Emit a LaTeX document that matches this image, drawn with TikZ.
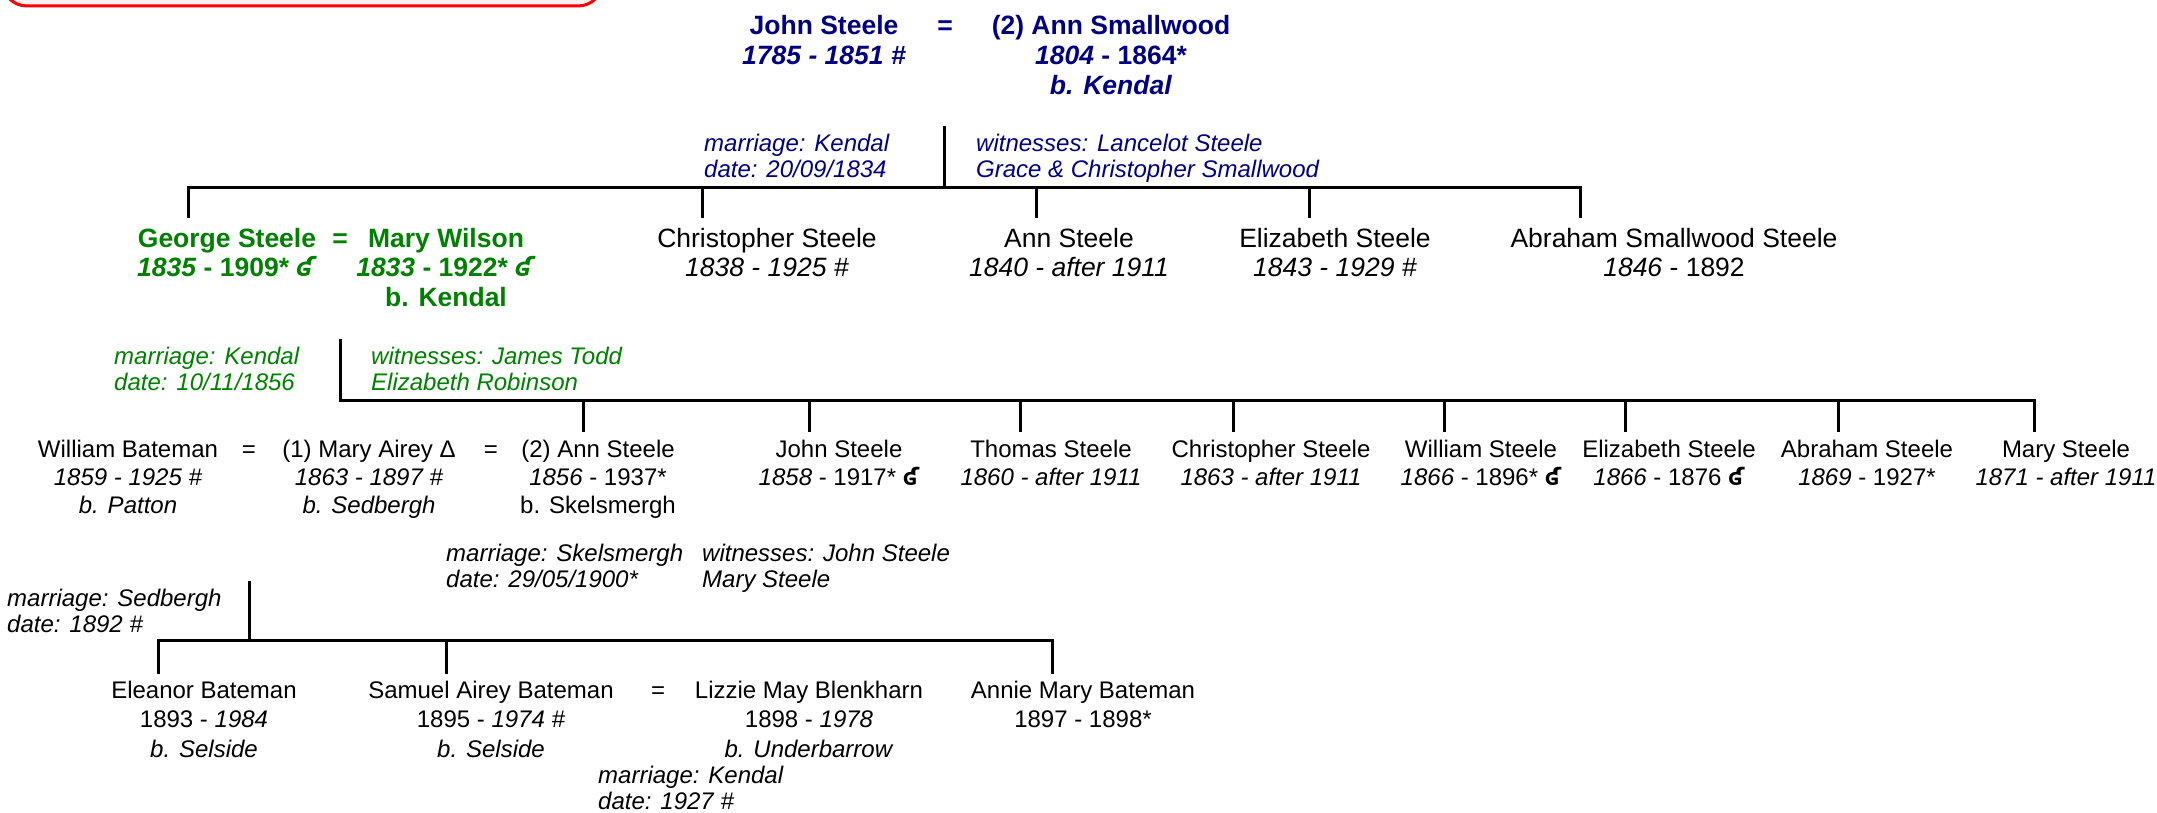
\documentclass[tikz,border=0pt]{standalone}
\usepackage{fontspec}
\setmainfont{Liberation Sans}
\newfontfamily\dvs{DejaVu Sans}
\definecolor{navyc}{RGB}{0,0,128}
\definecolor{greenc}{RGB}{0,128,0}
\newcommand\fst{\rule{0pt}{20pt}}
\newcommand\hk{{\dvs\bfseries ʛ}}
\tikzset{
  big/.style={font=\fontsize{26.5}{29.5}\selectfont, align=center, inner sep=0pt, anchor=north},
  smlA/.style={font=\fontsize{24}{28}\selectfont, align=center, inner sep=0pt, anchor=north},
  smlB/.style={font=\fontsize{24}{29.5}\selectfont, align=center, inner sep=0pt, anchor=north},
  note/.style={font=\fontsize{24}{26.5}\selectfont\itshape, align=left, inner sep=0pt, anchor=north west},
  ln/.style={line width=3pt, line cap=rect},
  navyb/.style={text=navyc, font=\fontsize{26.5}{30}\selectfont\bfseries},
  greenb/.style={text=greenc, font=\fontsize{26.5}{29.5}\selectfont\bfseries},
}
\begin{document}
\begin{tikzpicture}[x=1pt,y=-1pt]
\useasboundingbox (0,0) rectangle (2157,813);
% red box at top left
\draw[red, line width=3pt, fill=red!6, rounded corners=25pt] (2,-40) rectangle (603,6);

% ---------- generation 1 ----------
\node[big, navyb] (js1) at (824,14) {\fst John Steele\\\textit{1785 - 1851 \#}};
\node[big, navyb] (eq1) at (945,14) {\fst =};
\node[big, navyb] (as1) at (1111,14) {\fst (2) Ann Smallwood\\\textit{1804} - 1864*\\\textit{b. Kendal}};
\node[note, text=navyc] (m1) at (704,131) {\rule{0pt}{20pt}marriage: Kendal\\date: 20/09/1834};
\node[note, text=navyc] (w1) at (976,131) {\rule{0pt}{20pt}witnesses: Lancelot Steele\\Grace \& Christopher Smallwood};
\coordinate (t1) at (944,128);
\coordinate (j1) at (944,188);
\coordinate (b1L) at (188,188);
\coordinate (b1R) at (1580,188);
\draw[ln] (t1) -- (j1);
\draw[ln] (b1L) -- (b1R);
\foreach \n/\x in {a/188,b/702,c/1036,d/1309,e/1580}{
  \coordinate (u1\n) at (\x,188);
  \coordinate (d1\n) at (\x,217);
  \draw[ln] (u1\n) -- (d1\n);
}

% ---------- generation 2 ----------
\node[big, greenb] (gs) at (227,227) {\fst George Steele\\\textit{1835} - 1909* \textit{\hk}};
\node[big, greenb] (eq2) at (340,227) {\fst =};
\node[big, greenb] (mw) at (446,227) {\fst Mary Wilson\\\textit{1833} - 1922* \textit{\hk}\\b. Kendal};
\node[big] (cs) at (767,227) {\fst Christopher Steele\\\textit{1838 - 1925 \#}};
\node[big] (ans) at (1069,227) {\fst Ann Steele\\\textit{1840 - after 1911}};
\node[big] (es) at (1335,227) {\fst Elizabeth Steele\\\textit{1843 - 1929 \#}};
\node[big] (abs) at (1674,227) {\fst Abraham Smallwood Steele\\\textit{1846} - 1892};
\node[note, text=greenc] (m2) at (114,344) {\rule{0pt}{20pt}marriage: Kendal\\date: 10/11/1856};
\node[note, text=greenc] (w2) at (371,344) {\rule{0pt}{20pt}witnesses: James Todd\\Elizabeth Robinson};
\coordinate (t2) at (340,340);
\coordinate (j2) at (340,400);
\coordinate (b2R) at (2034,400);
\draw[ln] (t2) -- (j2) -- (b2R);
\foreach \n/\x in {a/583,b/809,c/1020,d/1233,e/1444,f/1625,g/1838,h/2034}{
  \coordinate (u2\n) at (\x,400);
  \coordinate (d2\n) at (\x,430);
  \draw[ln] (u2\n) -- (d2\n);
}

% ---------- generation 3 ----------
\node[smlA] (wb) at (128,437) {\fst William Bateman\\\textit{1859 - 1925 \#}\\\textit{b. Patton}};
\node[smlA] (eq3) at (249,437) {\fst =};
\node[smlA] (ma) at (369,437) {\fst (1) Mary Airey Δ\\\textit{1863 - 1897 \#}\\\textit{b. Sedbergh}};
\node[smlA] (eq4) at (491,437) {\fst =};
\node[smlA] (ast) at (598,437) {\fst (2) Ann Steele\\\textit{1856} - 1937*\\b. Skelsmergh};
\node[smlA] (jst) at (839,437) {\fst John Steele\\\textit{1858} - 1917* \hk};
\node[smlA] (ts) at (1051,437) {\fst Thomas Steele\\\textit{1860 - after 1911}};
\node[smlA] (cs2) at (1271,437) {\fst Christopher Steele\\\textit{1863 - after 1911}};
\node[smlA] (ws) at (1481,437) {\fst William Steele\\\textit{1866} - 1896* \hk};
\node[smlA] (es2) at (1669,437) {\fst Elizabeth Steele\\\textit{1866} - 1876 \hk};
\node[smlA] (abst) at (1867,437) {\fst Abraham Steele\\\textit{1869} - 1927*};
\node[smlA] (mst) at (2066,437) {\fst Mary Steele\\\textit{1871 - after 1911}};
\node[note] (m3) at (446,541) {\rule{0pt}{20pt}marriage: Skelsmergh\\date: 29/05/1900*};
\node[note] (w3) at (702,541) {\rule{0pt}{20pt}witnesses: John Steele\\Mary Steele};
\node[note] (m4) at (7,586) {\rule{0pt}{20pt}marriage: Sedbergh\\date: 1892 \#};
\coordinate (t4) at (249,582);
\coordinate (j4) at (249,640);
\coordinate (b4L) at (158,640);
\coordinate (b4R) at (1052,640);
\draw[ln] (t4) -- (j4);
\draw[ln] (b4L) -- (b4R);
\foreach \n/\x in {a/158,b/446,c/1052}{
  \coordinate (u4\n) at (\x,640);
  \coordinate (d4\n) at (\x,672);
  \draw[ln] (u4\n) -- (d4\n);
}

% ---------- generation 4 ----------
\node[smlB] (eb) at (204,678) {\fst Eleanor Bateman\\1893 - \textit{1984}\\\textit{b. Selside}};
\node[smlB] (sab) at (491,678) {\fst Samuel Airey Bateman\\1895 - \textit{1974 \#}\\\textit{b. Selside}};
\node[smlB] (eq5) at (658,678) {\fst =};
\node[smlB] (lmb) at (809,678) {\fst Lizzie May Blenkharn\\1898 - \textit{1978}\\\textit{b. Underbarrow}};
\node[smlB] (amb) at (1083,678) {\fst Annie Mary Bateman\\1897 - 1898*};
\node[note] (m5) at (598,763) {\rule{0pt}{20pt}marriage: Kendal\\date: 1927 \#};
\end{tikzpicture}
\end{document}
